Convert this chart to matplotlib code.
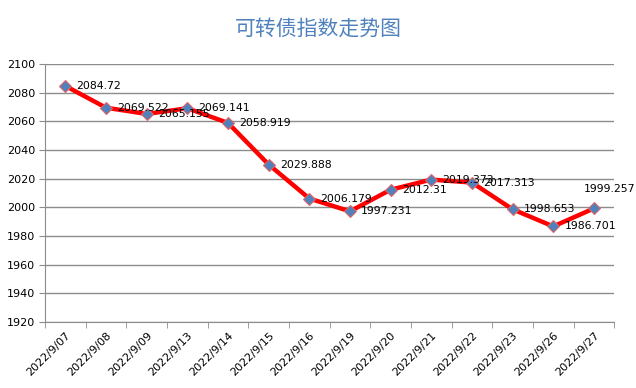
import numpy as np
import matplotlib.pyplot as plt

dates = ['2022/9/07', '2022/9/08', '2022/9/09', '2022/9/13', '2022/9/14', '2022/9/15', '2022/9/16',
         '2022/9/19', '2022/9/20', '2022/9/21', '2022/9/22', '2022/9/23', '2022/9/26', '2022/9/27']
values = [2084.72, 2069.522, 2065.155, 2069.141, 2058.919, 2029.888, 2006.179,
          1997.231, 2012.31, 2019.373, 2017.313, 1998.653, 1986.701, 1999.257]
labels = ['2084.72', '2069.522', '2065.155', '2069.141', '2058.919', '2029.888', '2006.179',
          '1997.231', '2012.31', '2019.373', '2017.313', '1998.653', '1986.701', '1999.257']

plt.rcParams['font.family'] = ['DejaVu Sans']
grid_c = '#8c8c8c'

fig = plt.figure(figsize=(6.36, 3.88), dpi=100)
ax = fig.add_axes([0.0708, 0.170, 0.895, 0.665])

x = np.arange(len(dates))
ax.plot(x, values, color='#FF0000', lw=3.2, zorder=3,
        marker='D', markersize=6.5, markerfacecolor='#4F81BD', markeredgecolor='#E06666', markeredgewidth=0.8)

for i, (v, t) in enumerate(zip(values, labels)):
    if i == len(values) - 1:
        ax.annotate(t, (i, v), xytext=(-7, 14), textcoords='offset points',
                    ha='left', va='center', fontsize=7.8, zorder=4)
    else:
        ax.annotate(t, (i, v), xytext=(8, 0), textcoords='offset points',
                    ha='left', va='center', fontsize=7.8, zorder=4)

ax.set_xlim(-0.5, len(dates) - 0.5)
ax.set_ylim(1920, 2100)
ax.set_yticks(np.arange(1920, 2101, 20))
ax.tick_params(axis='y', labelsize=8, length=4, color=grid_c, pad=3)
ax.set_xticks(x)
ax.set_xticklabels(dates, rotation=45, ha='right', rotation_mode='anchor', fontsize=8)
ax.set_xticks(np.arange(-0.5, len(dates)), minor=True)
ax.tick_params(axis='x', which='major', length=0, pad=6)
ax.tick_params(axis='x', which='minor', length=4, color=grid_c)

ax.grid(axis='y', color=grid_c, lw=1)
ax.set_axisbelow(True)
for s in ['top', 'right']:
    ax.spines[s].set_visible(False)
for s in ['left', 'bottom']:
    ax.spines[s].set_color(grid_c)

fig.text(0.5, 0.925, '可转债指数走势图', ha='center', va='center', fontsize=15,
         color='#4F81BD', family=['Noto Sans CJK SC', 'DejaVu Sans'])

fig.savefig('out.png', dpi=100)
